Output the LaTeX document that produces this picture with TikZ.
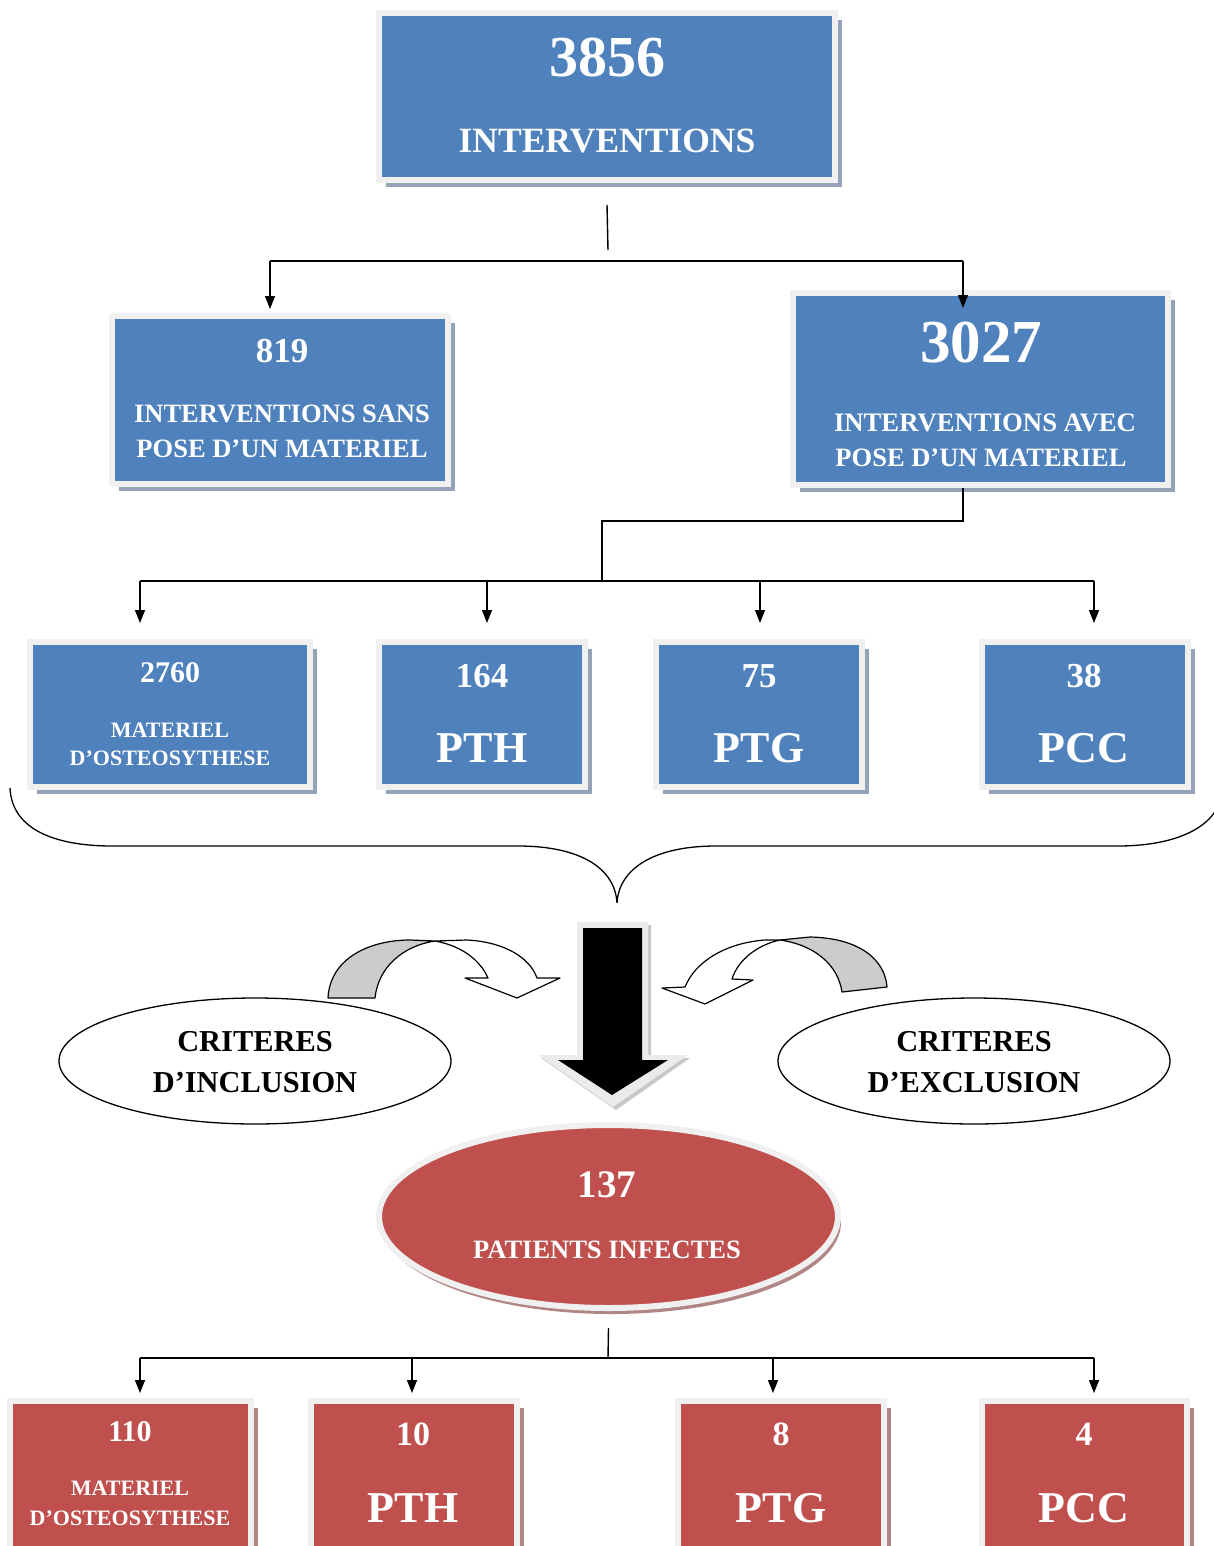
\documentclass[tikz,border=0pt]{standalone}
\usepackage{fontspec}
\setmainfont{Liberation Serif}
\usetikzlibrary{arrows.meta,shapes.geometric,shadows}
\definecolor{boxblue}{HTML}{4F81BD}
\definecolor{boxred}{HTML}{C0504D}
\definecolor{framegray}{HTML}{F0F0F0}
\definecolor{shadowblue}{HTML}{95A3B8}
\definecolor{shadowred}{HTML}{B08584}
\definecolor{bandgray}{HTML}{CCCCCC}
\definecolor{arrowframe}{HTML}{EBEBEB}
\definecolor{arrowshadow}{HTML}{C8C8C8}
\newcommand\myfs[1]{\fontsize{#1}{#1}\selectfont\bfseries}
\begin{document}
\begin{tikzpicture}[x=1pt,y=-1pt,
  bbox/.style={rectangle, inner sep=0pt, fill=boxblue, draw=framegray, line width=6pt,
    drop shadow={shadow xshift=7pt, shadow yshift=-7pt, fill=shadowblue, opacity=1}},
  rbox/.style={rectangle, inner sep=0pt, fill=boxred, draw=framegray, line width=6pt,
    drop shadow={shadow xshift=7pt, shadow yshift=-7pt, fill=shadowred, opacity=1}},
  txt/.style={anchor=base, text=white, inner sep=0pt},
  btxt/.style={anchor=base, text=black, inner sep=0pt},
  crit/.style={ellipse, draw=black, line width=1.3pt, fill=white, inner sep=0pt,
    minimum width=392pt, minimum height=126pt},
  conn/.style={draw=black, line width=1.4pt},
  arr/.style={conn, -{Triangle[length=13pt,width=10pt]}},
  outl/.style={draw=black, line width=1.2pt, line join=round}
]
\useasboundingbox (0,0) rectangle (1213,1546);

% ---------- top box ----------
\node[bbox, minimum width=456pt, minimum height=167pt] (b1) at (607,96.5) {};
\node[txt, font=\myfs{58}] (t1a) at (607,77) {3856};
\node[txt, font=\myfs{35.5}] (t1b) at (607,153) {INTERVENTIONS};

% ---------- second level ----------
\node[bbox, minimum width=336pt, minimum height=168pt] (b819) at (280,400) {};
\node[txt, font=\myfs{35}] (t2a) at (282,362) {819};
\node[txt, font=\myfs{26.5}] (t2b) at (282,422) {INTERVENTIONS SANS};
\node[txt, font=\myfs{26.5}] (t2c) at (282,457) {POSE D’UN MATERIEL};

\node[bbox, minimum width=375pt, minimum height=192pt] (b3027) at (980.5,389) {};
\node[txt, font=\myfs{61}] (t3a) at (981,362) {3027};
\node[txt, font=\myfs{26.7}] (t3b) at (985,431) {INTERVENTIONS AVEC};
\node[txt, font=\myfs{26.5}] (t3c) at (981,466) {POSE D’UN MATERIEL};

% ---------- third level ----------
\node[bbox, minimum width=280pt, minimum height=145pt] (b2760) at (170,714.5) {};
\node[txt, font=\myfs{30}] (t4a) at (170,682) {2760};
\node[txt, font=\myfs{22}] (t4b) at (170,737) {MATERIEL};
\node[txt, font=\myfs{22}] (t4c) at (170,765) {D’OSTEOSYTHESE};

\node[bbox, minimum width=206pt, minimum height=145pt] (b164) at (482,714.5) {};
\node[txt, font=\myfs{35}] (t5a) at (482,687) {164};
\node[txt, font=\myfs{44}] (t5b) at (482,762) {PTH};

\node[bbox, minimum width=206pt, minimum height=145pt] (b75) at (759,714.5) {};
\node[txt, font=\myfs{35}] (t6a) at (759,687) {75};
\node[txt, font=\myfs{44}] (t6b) at (759,762) {PTG};

\node[bbox, minimum width=206pt, minimum height=145pt] (b38) at (1085,714.5) {};
\node[txt, font=\myfs{35}] (t7a) at (1084,687) {38};
\node[txt, font=\myfs{44}] (t7b) at (1084,762) {PCC};

% ---------- connectors (top part) ----------
\coordinate (v1e) at (608,250);
\coordinate (j1l) at (270,261);
\coordinate (j1r) at (963,261);
\coordinate (a819) at (270,309);
\coordinate (a3027) at (963,308);
\draw[conn] ([yshift=-22pt]b1.south) -- (v1e);
\draw[conn] (j1l) -- (j1r);
\draw[arr] (j1l) -- (a819);
\draw[arr] (j1r) -- (a3027);

\coordinate (k1) at (602,521);
\coordinate (k2) at (602,581);
\coordinate (h2l) at (140,581);
\coordinate (h2r) at (1094,581);
\coordinate (a2760) at (140,623);
\coordinate (a164) at (487,623);
\coordinate (a75) at (760,623);
\coordinate (a38) at (1094,623);
\draw[conn] ([xshift=-17.5pt]b3027.south) |- (k1) -- (k2);
\draw[conn] (h2l) -- (h2r);
\draw[arr] (h2l) -- (a2760);
\draw[arr] (a164 |- h2l) -- (a164);
\draw[arr] (a75 |- h2l) -- (a75);
\draw[arr] (h2r) -- (a38);

% ---------- brace ----------
\draw[line width=1.3pt] (10,788) .. controls (12,832) and (60,846) .. (112,846) -- (518,846)
  .. controls (580,846) and (615,868) .. (617,903)
  .. controls (619,868) and (655,846) .. (716,846) -- (1118,846)
  .. controls (1168,846) and (1203,832) .. (1216,810);

% ---------- big down arrow ----------
\fill[arrowshadow] (580,925) -- (651,925) -- (651,1058) -- (690,1058) -- (616,1110) -- (541,1058) -- (580,1058) -- cycle;
\fill[arrowframe] (577,922) -- (648,922) -- (648,1055) -- (688,1055) -- (613,1107) -- (538,1055) -- (577,1055) -- cycle;
\fill[black] (583,928) -- (642,928) -- (642,1060) -- (668,1060) -- (612,1095) -- (558,1060) -- (583,1060) -- cycle;

% ---------- curved arrows ----------
\draw[outl, fill=bandgray] (328,998) .. controls (330,958) and (370,940) .. (410,940) -- (435,941)
  .. controls (402,946) and (378,968) .. (375,998) -- cycle;
\draw[outl, fill=white] (435,941) -- (467,940) .. controls (505,942) and (530,958) .. (537,978)
  -- (560,978) -- (517,998) -- (465,978) -- (488,978)
  .. controls (480,960) and (462,946) .. (435,941) -- cycle;

\draw[outl, fill=bandgray] (780,940) -- (810,937) .. controls (860,938) and (885,960) .. (887,987)
  -- (842,992) .. controls (838,965) and (815,945) .. (780,940) -- cycle;
\draw[outl, fill=white] (685,987) .. controls (695,962) and (725,943) .. (765,940) -- (780,940)
  .. controls (757,945) and (738,960) .. (732,979) -- (753,980) -- (705,1004) -- (662,988) -- cycle;

% ---------- criteria ellipses ----------
\node[crit] (e1) at (255,1061) {};
\node[btxt, font=\myfs{30.4}] (t8a) at (255,1051) {CRITERES};
\node[btxt, font=\myfs{30.4}] (t8b) at (255,1092) {D’INCLUSION};
\node[crit] (e2) at (974,1061) {};
\node[btxt, font=\myfs{30.4}] (t9a) at (974,1051) {CRITERES};
\node[btxt, font=\myfs{30.4}] (t9b) at (974,1092) {D’EXCLUSION};

% ---------- red ellipse ----------
\node[ellipse, inner sep=0pt, fill=boxred, draw=framegray, line width=6pt,
  minimum width=459pt, minimum height=183pt,
  drop shadow={shadow xshift=3pt, shadow yshift=-6pt, fill=shadowred, opacity=1}] (pe) at (608.5,1216.5) {};
\node[txt, font=\myfs{39}] (t10a) at (607,1197) {137};
\node[txt, font=\myfs{26.5}] (t10b) at (607,1258) {PATIENTS INFECTES};

% ---------- bottom connectors ----------
\coordinate (m2) at (608,1358);
\coordinate (h3l) at (140,1358);
\coordinate (h3r) at (1094,1358);
\coordinate (c110) at (140,1393);
\coordinate (c10) at (412,1393);
\coordinate (c8) at (773,1393);
\coordinate (c4) at (1094,1393);
\draw[conn] ([yshift=-17pt]pe.south) -- (m2);
\draw[conn] (h3l) -- (h3r);
\draw[arr] (h3l) -- (c110);
\draw[arr] (c10 |- h3l) -- (c10);
\draw[arr] (c8 |- h3l) -- (c8);
\draw[arr] (h3r) -- (c4);

% ---------- bottom boxes ----------
\node[rbox, minimum width=241pt, minimum height=148pt] (r110) at (130.5,1475) {};
\node[txt, font=\myfs{30}] (t11a) at (130,1441) {110};
\node[txt, font=\myfs{22}] (t11b) at (130,1495) {MATERIEL};
\node[txt, font=\myfs{22}] (t11c) at (130,1525) {D’OSTEOSYTHESE};

\node[rbox, minimum width=206pt, minimum height=148pt] (r10) at (414,1475) {};
\node[txt, font=\myfs{34}] (t12a) at (413,1445) {10};
\node[txt, font=\myfs{44}] (t12b) at (413,1522) {PTH};

\node[rbox, minimum width=206pt, minimum height=148pt] (r8) at (781,1475) {};
\node[txt, font=\myfs{34}] (t13a) at (781,1445) {8};
\node[txt, font=\myfs{44}] (t13b) at (781,1522) {PTG};

\node[rbox, minimum width=205pt, minimum height=148pt] (r4) at (1084.5,1475) {};
\node[txt, font=\myfs{34}] (t14a) at (1084,1445) {4};
\node[txt, font=\myfs{44}] (t14b) at (1084,1522) {PCC};
\end{tikzpicture}
\end{document}
